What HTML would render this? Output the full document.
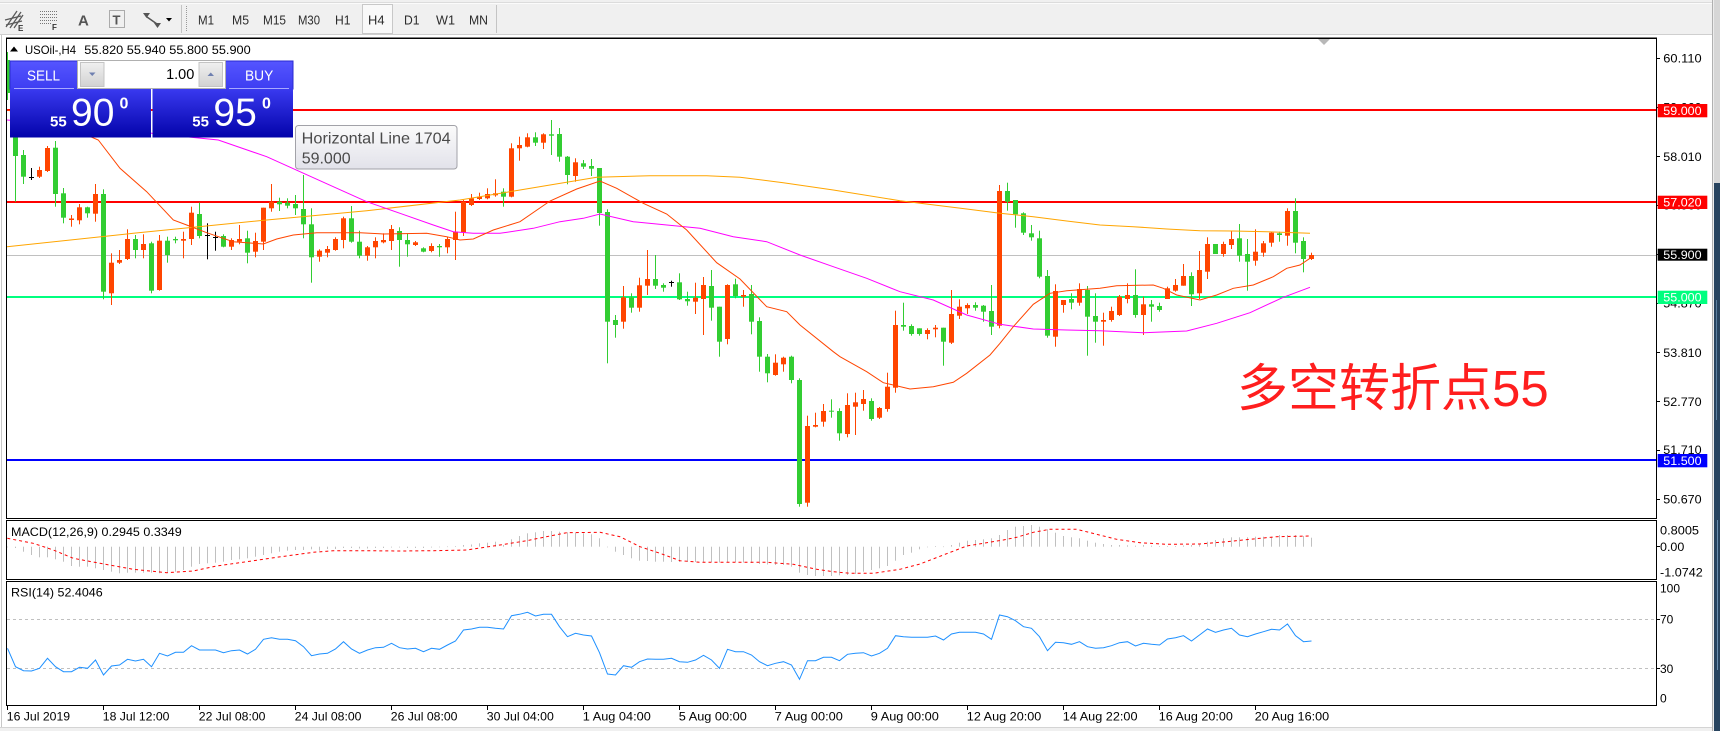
<!DOCTYPE html>
<html><head><meta charset="utf-8"><title>USOil H4</title>
<style>
html,body{margin:0;padding:0;background:#fff;overflow:hidden;width:1720px;height:731px}
svg{display:block;font-family:"Liberation Sans","Noto Sans CJK SC",sans-serif}
</style></head>
<body>
<svg id="S" width="1720" height="731" viewBox="0 0 1720 731" xmlns="http://www.w3.org/2000/svg">
<defs>
<clipPath id="cm"><rect x="7" y="39" width="1649" height="478"/></clipPath>
<clipPath id="cd"><rect x="7" y="521" width="1649" height="57"/></clipPath>
<clipPath id="cr"><rect x="7" y="582" width="1649" height="123"/></clipPath>
<linearGradient id="gb" x1="0" y1="0" x2="0" y2="1"><stop offset="0" stop-color="#3a3af0"/><stop offset="1" stop-color="#0303aa"/></linearGradient>
<linearGradient id="gbt" x1="0" y1="0" x2="0" y2="1"><stop offset="0" stop-color="#5555ff"/><stop offset="1" stop-color="#3d3df2"/></linearGradient>
<linearGradient id="gs" x1="0" y1="0" x2="0" y2="1"><stop offset="0" stop-color="#f0f0f0"/><stop offset="1" stop-color="#d2d2d2"/></linearGradient>
<linearGradient id="gt" x1="0" y1="0" x2="0" y2="1"><stop offset="0" stop-color="#fbfbfb"/><stop offset="1" stop-color="#e2e2ea"/></linearGradient>
</defs>

<!-- background -->
<rect x="0" y="0" width="1720" height="731" fill="#ffffff"/>
<!-- toolbar -->
<rect x="0" y="0" width="1720" height="35" fill="#f0f0f0"/>
<rect x="0" y="2" width="1720" height="1" fill="#dcdcdc"/>
<rect x="0" y="3" width="1720" height="1" fill="#fbfbfb"/>
<rect x="0" y="34" width="1720" height="1" fill="#cfcfcf"/>
<!-- toolbar icons -->
<g stroke="#5a5a5a" stroke-width="1.3" fill="none">
<line x1="6" y1="27" x2="17" y2="11"/><line x1="10" y1="28" x2="21" y2="12"/><line x1="14" y1="28" x2="23" y2="15"/>
<line x1="5" y1="20" x2="21" y2="16"/><line x1="6" y1="25" x2="22" y2="21"/>
</g>
<text x="18" y="31" font-size="8" font-weight="bold" fill="#333">E</text>
<g stroke="#777" stroke-width="1" stroke-dasharray="1,1">
<line x1="40" y1="11.5" x2="57" y2="11.5"/><line x1="40" y1="14.5" x2="57" y2="14.5"/><line x1="40" y1="17.5" x2="57" y2="17.5"/><line x1="40" y1="20.5" x2="57" y2="20.5"/><line x1="40" y1="23.5" x2="52" y2="23.5"/>
</g>
<text x="52" y="30" font-size="8" font-weight="bold" fill="#333">F</text>
<text x="78" y="25.5" font-size="15" font-weight="bold" fill="#555">A</text>
<rect x="109.5" y="10.5" width="15" height="17" fill="none" stroke="#666" stroke-dasharray="1,1"/>
<text x="112.5" y="24.5" font-size="13" font-weight="bold" fill="#555">T</text>
<polygon points="143,13 150,13 146.5,18" fill="#555"/>
<line x1="147" y1="17" x2="157" y2="24" stroke="#555" stroke-width="1.5"/>
<polygon points="154,23 161,23 157.5,28" fill="#555"/>
<polygon points="166,18 172,18 169,21.5" fill="#000"/>
<rect x="181" y="5" width="1" height="28" fill="#c4c4c4"/>
<line x1="186.5" y1="6" x2="186.5" y2="32" stroke="#9a9a9a" stroke-dasharray="1,1"/>
<rect x="362.5" y="4.5" width="30" height="29" fill="#f9f9f9" stroke="#c8c8c8"/>
<g font-size="13" fill="#2c2c2c">
<text x="198" y="24.5" textLength="16" lengthAdjust="spacingAndGlyphs">M1</text>
<text x="232" y="24.5" textLength="17" lengthAdjust="spacingAndGlyphs">M5</text>
<text x="263" y="24.5" textLength="23" lengthAdjust="spacingAndGlyphs">M15</text>
<text x="298" y="24.5" textLength="22" lengthAdjust="spacingAndGlyphs">M30</text>
<text x="335" y="24.5" textLength="15.5" lengthAdjust="spacingAndGlyphs">H1</text>
<text x="368" y="24.5" textLength="16.5" lengthAdjust="spacingAndGlyphs">H4</text>
<text x="404" y="24.5" textLength="15.5" lengthAdjust="spacingAndGlyphs">D1</text>
<text x="436" y="24.5" textLength="19" lengthAdjust="spacingAndGlyphs">W1</text>
<text x="469" y="24.5" textLength="19" lengthAdjust="spacingAndGlyphs">MN</text>
</g>
<rect x="496" y="5" width="1" height="28" fill="#c4c4c4"/>

<!-- window edges -->
<rect x="1" y="35" width="1" height="693" fill="#c8c8c8"/>
<rect x="0" y="727" width="1720" height="4" fill="#f0f0f0"/>
<rect x="0" y="727" width="1720" height="1" fill="#d4d4d4"/>
<rect x="1712" y="0" width="1" height="731" fill="#b0b0b0"/>
<rect x="1713" y="0" width="1" height="731" fill="#ececec"/>
<rect x="1714" y="0" width="6" height="183" fill="#d6d6d6"/>
<rect x="1714" y="183" width="6" height="548" fill="#28445f"/>
<rect x="1716" y="300" width="1" height="120" fill="#5b7fa0"/>
<rect x="1717" y="520" width="1" height="150" fill="#6a8fb0"/>

<!-- horizontal level lines -->
<rect x="7" y="255" width="1649" height="1" fill="#c0c0c0"/>
<rect x="7" y="109" width="1649" height="2" fill="#ff0000"/>
<rect x="7" y="201" width="1649" height="2" fill="#ff0000"/>
<rect x="7" y="296" width="1649" height="2" fill="#00ff7f"/>
<rect x="7" y="459" width="1649" height="2" fill="#0000ff"/>

<!-- candles + MAs (drawn by script) -->
<g id="candles" clip-path="url(#cm)"></g>
<g id="mas" clip-path="url(#cm)"></g>
<g id="macd" clip-path="url(#cd)"></g>
<g id="rsi" clip-path="url(#cr)">
<line x1="7" y1="619.5" x2="1656" y2="619.5" stroke="#c0c0c0" stroke-dasharray="3,3"/>
<line x1="7" y1="668.5" x2="1656" y2="668.5" stroke="#c0c0c0" stroke-dasharray="3,3"/>
</g>

<!-- chart borders -->
<rect x="6" y="37.5" width="1651" height="1.5" fill="#000"/>
<rect x="6" y="38" width="1" height="480" fill="#000"/>
<rect x="1656" y="38" width="1" height="481" fill="#000"/>
<rect x="6" y="518" width="1651" height="1" fill="#000"/>
<rect x="6" y="520" width="1651" height="1" fill="#000"/>
<rect x="6" y="520" width="1" height="60" fill="#000"/>
<rect x="1656" y="520" width="1" height="60" fill="#000"/>
<rect x="6" y="579" width="1651" height="1" fill="#000"/>
<rect x="6" y="581" width="1651" height="1" fill="#000"/>
<rect x="6" y="581" width="1" height="125" fill="#000"/>
<rect x="1656" y="581" width="1" height="125" fill="#000"/>
<rect x="6" y="705" width="1651" height="1" fill="#000"/>

<!-- chart shift marker -->
<polygon points="1318,39 1330,39 1324,45" fill="#b8b8b8"/>

<!-- header -->
<polygon points="10,51.5 18,51.5 14,46.5" fill="#000"/>
<text x="25" y="54" font-size="12" fill="#000" textLength="51" lengthAdjust="spacingAndGlyphs">USOil-,H4</text>
<text x="84.3" y="54" font-size="12" fill="#000" textLength="166.4" lengthAdjust="spacingAndGlyphs">55.820 55.940 55.800 55.900</text>

<!-- sub-window labels -->
<text x="11" y="536" font-size="12" fill="#000" textLength="170.7" lengthAdjust="spacingAndGlyphs">MACD(12,26,9) 0.2945 0.3349</text>
<text x="11" y="596.5" font-size="12" fill="#000" textLength="91.7" lengthAdjust="spacingAndGlyphs">RSI(14) 52.4046</text>

<!-- price axis -->
<g fill="#000">
<rect x="1656" y="58" width="4" height="1"/><rect x="1656" y="107" width="4" height="1"/><rect x="1656" y="156" width="4" height="1"/>
<rect x="1656" y="205" width="4" height="1"/><rect x="1656" y="254" width="4" height="1"/><rect x="1656" y="303" width="4" height="1"/>
<rect x="1656" y="352" width="4" height="1"/><rect x="1656" y="401" width="4" height="1"/><rect x="1656" y="450" width="4" height="1"/>
<rect x="1656" y="499" width="4" height="1"/><rect x="1656" y="546" width="4" height="1"/>
<rect x="1656" y="619" width="4" height="1"/><rect x="1656" y="668" width="4" height="1"/>
</g>
<g font-size="12" fill="#000">
<text x="1663.3" y="62.6" textLength="38.3" lengthAdjust="spacingAndGlyphs">60.110</text>
<text x="1663.3" y="111.6" textLength="38.3" lengthAdjust="spacingAndGlyphs">59.060</text>
<text x="1663.3" y="160.8" textLength="38.3" lengthAdjust="spacingAndGlyphs">58.010</text>
<text x="1663.3" y="209.6" textLength="38.3" lengthAdjust="spacingAndGlyphs">56.960</text>
<text x="1663.3" y="258.6" textLength="38.3" lengthAdjust="spacingAndGlyphs">55.910</text>
<text x="1663.3" y="307.3" textLength="38.3" lengthAdjust="spacingAndGlyphs">54.870</text>
<text x="1663.3" y="357" textLength="38.3" lengthAdjust="spacingAndGlyphs">53.810</text>
<text x="1663.3" y="405.8" textLength="38.3" lengthAdjust="spacingAndGlyphs">52.770</text>
<text x="1663.3" y="453.8" textLength="38.3" lengthAdjust="spacingAndGlyphs">51.710</text>
<text x="1663.3" y="503.5" textLength="38.3" lengthAdjust="spacingAndGlyphs">50.670</text>
<text x="1660" y="534.3" textLength="39" lengthAdjust="spacingAndGlyphs">0.8005</text>
<text x="1660" y="551" textLength="24.3" lengthAdjust="spacingAndGlyphs">0.00</text>
<text x="1660" y="576.6" textLength="42.7" lengthAdjust="spacingAndGlyphs">-1.0742</text>
<text x="1660" y="592.5" textLength="20" lengthAdjust="spacingAndGlyphs">100</text>
<text x="1660" y="623.3" textLength="13.3" lengthAdjust="spacingAndGlyphs">70</text>
<text x="1660" y="672.8" textLength="13.3" lengthAdjust="spacingAndGlyphs">30</text>
<text x="1660" y="702.3" textLength="6.7" lengthAdjust="spacingAndGlyphs">0</text>
</g>
<!-- price boxes -->
<rect x="1657.7" y="104" width="49.6" height="13.3" fill="#ff0000"/>
<rect x="1657.7" y="195.7" width="49.6" height="13.3" fill="#ff0000"/>
<rect x="1657.7" y="248.7" width="49.6" height="12" fill="#000000"/>
<rect x="1657.7" y="290.7" width="49.6" height="13.3" fill="#00ff7f"/>
<rect x="1657.7" y="454" width="49.6" height="13.3" fill="#0000ff"/>
<g font-size="12" fill="#ffffff">
<text x="1663.3" y="115" textLength="38.3" lengthAdjust="spacingAndGlyphs">59.000</text>
<text x="1663.3" y="206.6" textLength="38.3" lengthAdjust="spacingAndGlyphs">57.020</text>
<text x="1663.3" y="259" textLength="38.3" lengthAdjust="spacingAndGlyphs">55.900</text>
<text x="1663.3" y="301.6" textLength="38.3" lengthAdjust="spacingAndGlyphs">55.000</text>
<text x="1663.3" y="465" textLength="38.3" lengthAdjust="spacingAndGlyphs">51.500</text>
</g>

<!-- time axis -->
<g fill="#000">
<rect x="7" y="705" width="1" height="5"/><rect x="103" y="705" width="1" height="5"/><rect x="199" y="705" width="1" height="5"/>
<rect x="295" y="705" width="1" height="5"/><rect x="391" y="705" width="1" height="5"/><rect x="487" y="705" width="1" height="5"/>
<rect x="583" y="705" width="1" height="5"/><rect x="679" y="705" width="1" height="5"/><rect x="775" y="705" width="1" height="5"/>
<rect x="871" y="705" width="1" height="5"/><rect x="967" y="705" width="1" height="5"/><rect x="1063" y="705" width="1" height="5"/>
<rect x="1159" y="705" width="1" height="5"/><rect x="1255" y="705" width="1" height="5"/>
</g>
<g font-size="12" fill="#000">
<text x="6.8" y="720.7" textLength="63.3" lengthAdjust="spacingAndGlyphs">16 Jul 2019</text>
<text x="102.8" y="720.7" textLength="66.7" lengthAdjust="spacingAndGlyphs">18 Jul 12:00</text>
<text x="198.8" y="720.7" textLength="66.7" lengthAdjust="spacingAndGlyphs">22 Jul 08:00</text>
<text x="294.8" y="720.7" textLength="66.7" lengthAdjust="spacingAndGlyphs">24 Jul 08:00</text>
<text x="390.8" y="720.7" textLength="66.7" lengthAdjust="spacingAndGlyphs">26 Jul 08:00</text>
<text x="486.8" y="720.7" textLength="67" lengthAdjust="spacingAndGlyphs">30 Jul 04:00</text>
<text x="582.8" y="720.7" textLength="68" lengthAdjust="spacingAndGlyphs">1 Aug 04:00</text>
<text x="678.8" y="720.7" textLength="68" lengthAdjust="spacingAndGlyphs">5 Aug 00:00</text>
<text x="774.8" y="720.7" textLength="68" lengthAdjust="spacingAndGlyphs">7 Aug 00:00</text>
<text x="870.8" y="720.7" textLength="68" lengthAdjust="spacingAndGlyphs">9 Aug 00:00</text>
<text x="966.8" y="720.7" textLength="74.5" lengthAdjust="spacingAndGlyphs">12 Aug 20:00</text>
<text x="1062.8" y="720.7" textLength="74.7" lengthAdjust="spacingAndGlyphs">14 Aug 22:00</text>
<text x="1158.8" y="720.7" textLength="74" lengthAdjust="spacingAndGlyphs">16 Aug 20:00</text>
<text x="1254.8" y="720.7" textLength="74.3" lengthAdjust="spacingAndGlyphs">20 Aug 16:00</text>
</g>

<!-- annotation text -->
<text x="1237" y="406" font-size="51" fill="#ff1e1e" font-family="'Liberation Sans','Noto Sans CJK SC',sans-serif">多空转折点55</text>

<!-- tooltip -->
<rect x="295.5" y="125.5" width="161.5" height="43.5" rx="3" ry="3" fill="url(#gt)" stroke="#a2a2a8"/>
<text x="301.7" y="143.3" font-size="16" fill="#4a4a4a" textLength="149" lengthAdjust="spacingAndGlyphs">Horizontal Line 1704</text>
<text x="301.7" y="163.3" font-size="16" fill="#4a4a4a">59.000</text>

<!-- one-click trading panel -->
<rect x="10" y="61" width="67.5" height="28" fill="url(#gbt)" stroke="#2a2ad0" stroke-width="1"/>
<rect x="225.5" y="61" width="67.5" height="28" fill="url(#gbt)" stroke="#2a2ad0" stroke-width="1"/>
<rect x="10" y="88.5" width="141" height="49" fill="url(#gb)"/>
<rect x="152.5" y="88.5" width="140.5" height="49" fill="url(#gb)"/>
<rect x="14" y="88" width="60" height="1" fill="#a8a8ff"/>
<rect x="229" y="88" width="60" height="1" fill="#a8a8ff"/>
<rect x="77.5" y="60.5" width="148" height="28" fill="#ffffff" stroke="#b0b0b0"/>
<rect x="80.5" y="62.5" width="23.5" height="24" fill="url(#gs)" stroke="#c4c4c4"/>
<rect x="199" y="62.5" width="23.5" height="24" fill="url(#gs)" stroke="#c4c4c4"/>
<polygon points="89,72.5 95.5,72.5 92.25,76" fill="#6f80b0"/>
<polygon points="207.5,76 214,76 210.75,72.5" fill="#6f80b0"/>
<text x="194.3" y="79" font-size="14.5" fill="#000" text-anchor="end">1.00</text>
<text x="27" y="80.7" font-size="15" fill="#ffffff" textLength="33" lengthAdjust="spacingAndGlyphs">SELL</text>
<text x="245" y="80.7" font-size="15" fill="#ffffff" textLength="28.3" lengthAdjust="spacingAndGlyphs">BUY</text>
<text x="50" y="126.3" font-size="15" font-weight="bold" fill="#ffffff">55</text>
<text x="71" y="125.3" font-size="39" fill="#ffffff">90</text>
<text x="119.5" y="108.7" font-size="16" font-weight="bold" fill="#ffffff">0</text>
<text x="192.3" y="126.3" font-size="15" font-weight="bold" fill="#ffffff">55</text>
<text x="213.4" y="125.3" font-size="39" fill="#ffffff">95</text>
<text x="262" y="108.7" font-size="16" font-weight="bold" fill="#ffffff">0</text>
</svg>

<script>
(function(){
var NS='http://www.w3.org/2000/svg';
function add(p,tag,a){var e=document.createElementNS(NS,tag);for(var k in a)e.setAttribute(k,a[k]);p.appendChild(e);return e;}
var C=[
['g',60,93,52,100],['g',137,156,130,201.7],['g',155,176.7,150,184],['k',176.7,177.5,168,180],['r',170,176.7,166.7,178],
['r',148,171,146,172],['g',147.7,194,141,206.7],['g',193.3,217.7,188,223.3],['r',218.5,220,215,226.7],['r',207.3,220.3,204,224.3],
['g',207.3,213.3,206.7,217.7],['r',194,213.7,184,221.7],['g',194,291.7,189.3,299.3],['r',262.7,293.3,253.3,305],['r',260,262.7,250,264],
['r',239,259,229.3,260],['g',239,250,235,258.3],['r',244,250,234.3,258.3],['g',243.3,290.7,241.7,293.3],['r',240.7,290,235,290.7],
['g',240.7,255,236.7,262.7],['g',239,240.3,236.7,243.3],['r',239,240.7,231.7,258.3],['r',212.7,239,206.7,245],['g',214,236,202.7,238.3],
['k',235,235.5,223.3,259.3],['k',236.7,237.2,231.7,250.7],['g',236,246.7,234.3,247.3],['r',240,246.7,238.3,250],['r',239,241.7,225,244.3],
['g',238.3,252.7,230.7,263.3],['r',241,251.7,232.7,257.3],['r',207.7,241.7,207.7,250],['r',201.7,208.3,184,211.7],['g',201.7,204.3,197.7,211],
['g',202.7,205.7,198.3,208.3],['g',204,208.3,195,215],['g',209,224.3,175,238.3],['g',224.3,257.3,208.3,282.7],['r',250.7,256.7,249.3,261.7],
['r',249,252.7,246,257.3],['r',239,250,237.3,250.7],['r',218.3,240,216.7,248.3],['g',218.3,241.7,206,242.7],['g',241.7,255.7,230.7,258.3],
['r',247.3,255.7,246,260.7],['r',241,247.3,237.3,258.3],['r',240,242.3,233.3,243.3],['r',229,241,225,250],['g',231,240,227.3,266.7],
['g',240,244.3,233.3,256.7],['r',242.3,245,241,246],['g',248.3,251.7,247.3,252.3],['r',246,251,243.3,252.3],['g',246,247.3,244,256.7],
['r',239,247.3,236.7,253.3],['r',231.7,240,211.7,260],['r',201.7,232.3,200,236],['r',198.3,205,194,206],['r',196.7,199,192.7,200],
['r',194,198.3,188.3,199.3],['r',193.3,195.3,179.3,196.7],['g',191.7,196.7,188.3,206.7],['r',148.3,196.7,143.3,197.3],['r',145,148.3,136.7,160.7],
['r',137.3,146.7,133.3,147.3],['g',137.3,142.7,132.3,146],['r',134.3,142.7,133.3,149],['g',134.3,135.7,120,155],['g',134,156.7,128,161.7],
['g',156.7,175,156,184.3],['r',162.3,176,158.3,181.7],['g',163.3,166.7,160,169],['g',166,168.7,159,176],['g',168,213,168,225.7],
['g',212,321.7,209.3,363.3],['g',320,325,315,337.7],['r',297.3,321.7,286,328.7],['g',297.3,307.7,293.3,312.7],['r',285.3,307.7,277.7,311.7],
['r',279,285.7,250,295],['g',279,285.7,255,289],['g',285,287.7,283.3,291.7],['k',282.3,282.8,280.7,286.7],['g',282.3,299.3,273.3,300],
['g',299,301.3,291.7,305.7],['r',297.7,301.7,282.7,314],['r',285,299,277,335],['g',286,307.7,270,320.7],['g',306.7,341.7,306.7,356.7],
['r',285,339,284.3,344.3],['g',284.3,296,278.7,298.3],['r',295,296.7,290,306.7],['g',294,321.7,285,334.3],['g',321,356.7,317.3,371.7],
['g',356.7,373.3,354,382.3],['r',362.7,375,354.3,375.7],['r',357.7,364.3,356.7,371.7],['g',356.7,380,355.7,383.3],['g',380,504,378.3,506.7],
['r',426,502.7,415.7,506.7],['r',425,426.7,412.7,427.3],['r',411,421.7,404,426.7],['g',410.7,411.7,399.3,417.7],['g',411,433.3,408.3,440.7],
['r',405,434,393.3,437.3],['r',402.3,406.7,392.7,435],['r',399,404,390,410.7],['g',401,419,398.3,420.7],['r',408,417.7,407,419],
['r',386.7,409,372.7,411.7],['r',325,387.7,310.7,392.7],['g',325,326.7,302.7,330.7],['g',326,334,324.3,335.7],['g',328.3,334,328.3,335.7],
['r',330,334,328.3,339.3],['r',327.7,329.3,325,337.3],['g',327.7,341.7,327.7,365.7],['r',314,342.7,290,344],['r',306.7,315.7,299.3,319],
['r',305,308.3,303.3,314],['g',305,307.7,302.3,310.7],['g',305.7,311.7,305,321.7],['g',311,326.7,285,335],['r',191,325.7,185,328.3],
['g',191,201.7,182.7,210.7],['g',200,214.3,200,227.7],['g',213.3,232.7,212.3,235],['g',233.3,237.3,225,240.7],['g',238.3,276.7,230.7,278.3],
['g',276,335.7,270,337.7],['r',291,336.7,284.3,346.7],['r',300,305,300,312.7],['g',299,302.7,293.3,309.3],['r',289,302.7,283.3,305.7],
['g',290,316.7,286,355.7],['g',316,321.7,293.3,342.7],['r',320,321.7,312.7,345.7],['r',311,320,306.7,321.7],['r',296.7,315,295,316],
['r',295,299,283.3,303.3],['g',295,315,269.3,317.7],['r',304.3,315,296.7,335],['g',304.3,306.7,300,321.7],['g',306,310,302.7,311.7],
['r',288.3,299,286.7,299],['r',285,290.7,279,291.7],['r',276,285.7,264,285.7],['g',276,294.3,272.3,306],['r',270,293.3,251,299],
['r',244,271.7,237.3,279],['g',244,254,244,254],['r',244,254,241.7,256.7],['r',239,245,230.7,249],['g',238.3,255.7,224,261.7],
['g',254,261.7,239,290.7],['r',251.7,260.7,229.3,265.7],['r',243.3,252.7,241,256.7],['r',232.7,242.7,231.7,246.7],['g',233.3,235,231.7,241.7],
['r',211,235.7,208.3,245.7],['g',211,242.7,198.3,253.3],['g',241,259,237.3,272.3],['r',255,259,252.7,260]
];
var col={g:'#32cd32',r:'#ff4500',k:'#000000'};
var gc=document.getElementById('candles');
C.forEach(function(c,k){
  var x=7+8*k, f=col[c[0]];
  add(gc,'rect',{x:x,y:c[3],width:1,height:Math.max(1,c[4]-c[3]),fill:f});
  if(c[0]==='k'){add(gc,'rect',{x:x-2,y:Math.round(c[1]),width:5,height:1,fill:f});}
  else{add(gc,'rect',{x:x-2,y:c[1],width:5,height:Math.max(1,c[2]-c[1]),fill:f});}
});
function pl(p,pts,stroke,extra){
  var a={points:pts.map(function(q){return q[0]+','+q[1];}).join(' '),fill:'none',stroke:stroke,'stroke-width':1};
  if(extra)for(var k in extra)a[k]=extra[k];
  add(p,'polyline',a);
}
var gm=document.getElementById('mas');
pl(gm,[[7,246.7],[133.3,233.3],[266.7,220],[366.7,210.7],[460,200],[520,190],[550,185],[596.7,177.3],[650,175.7],[706.7,175.7],[740,177.3],[783.3,182.7],[833.3,190],[900,200.7],[966.7,209],[1000,213.3],[1033.3,216.7],[1066.7,221],[1100,225],[1133.3,226.7],[1166.7,229],[1200,230.7],[1233.3,231],[1266.7,231.7],[1310,233.3]],'#ffa500');
pl(gm,[[7,120],[100,128],[218.3,140],[266.7,156.7],[300,171.7],[333.3,186.7],[366.7,201.7],[400,213.3],[433.3,225],[453.3,231.7],[473.3,233.3],[500,233.3],[533.3,228.3],[560,221.7],[583.3,218.3],[600,214],[633.3,221.7],[700,228.3],[733.3,236.7],[766.7,241.7],[800,255],[833.3,266.7],[866.7,278.3],[900,291.7],[933.3,300],[966.7,315],[1000,324.3],[1033.3,329],[1066.7,330],[1100,330.7],[1143.3,332.7],[1186.7,331],[1216.7,323.3],[1250,312.7],[1283.3,297.3],[1310,287.3]],'#ff00ff');
pl(gm,[[7,110],[40,118],[70,128],[98.3,140],[120,168.3],[146.7,191.7],[173.3,220],[186.7,225],[206.7,232.7],[233.3,241.7],[263.3,244],[276.7,239],[293.3,235],[316.7,232.7],[360,232.7],[383.3,234],[426.7,233.3],[446.7,236.7],[460,240],[473.3,239],[493.3,230],[520,221.7],[550,201],[576.7,189],[600,181],[616.7,188.3],[643.3,203.3],[666.7,214],[686.7,230],[716.7,262.7],[740,279],[766.7,306.7],[786.7,311.7],[800,325],[833.3,351.7],[840,356.7],[866.7,371.7],[883.3,382.7],[910,389],[933.3,386.7],[953.3,382.3],[966.7,373.3],[990,355],[1000,343.3],[1013.3,326.7],[1033.3,304.3],[1050,293.3],[1066.7,290.7],[1100,288.3],[1116.7,285.7],[1153.3,285],[1163.3,288.3],[1176.7,295],[1200,300],[1216.7,295],[1233.3,288.3],[1253.3,285],[1273.3,276.7],[1286.7,268.3],[1300,265],[1310,258.3]],'#ff4500');

var H=[547,548,551.7,555,557.3,557.3,559.3,561.7,566,566.7,566.7,568.3,570,571.7,573.3,572.7,572.7,572.7,572.7,573.3,572.7,571.7,570,566.7,564,563.3,562.7,561.7,560,559.3,558.3,556.7,555,553.3,551.7,550.7,550,550,549.3,550.7,549,549,548,548,548.5,548.5,548,548,547.5,547.5,548,548,548,547.5,547,546.5,546,545,544.5,543.3,542.7,541.7,
545,539.3,536,533.3,532.3,531,531,531.7,532.3,532.7,533.3,534.3,538.3,546.7,551.7,555,558.3,560.7,561,561.7,561.7,562,562,562,562,562,562,562.5,562,562,562.5,563,564,564.5,565,565,566.7,572.7,575,576,576,576,575.3,575,574,571.7,570,568.3,566,560.7,555,552.7,549.3,546.7,546,546.5,545,542.7,540.7,540,539.3,538.3,535,
530,526.7,526,525,526.7,529.3,532.7,536,537.3,538.3,540.7,542.7,544,545,545,545.3,545.7,545,545.7,546,546,546,545.5,545,544.5,541.7,540,538.3,537.3,537.3,537.3,536.7,536.7,536.7,535,535,535,536,537.7];
var gd=document.getElementById('macd'), z=546.7;
H.forEach(function(v,k){
  var x=7+8*k, t=Math.min(z,v), b=Math.max(z,v);
  add(gd,'rect',{x:x,y:t,width:1,height:Math.max(0.6,b-t),fill:'#c0c0c0'});
});
pl(gd,[[7.3,538.3],[33.3,543.3],[53.3,550],[73.3,558.3],[100,563.3],[133.3,569.3],[166.7,572.7],[193.3,571],[216.7,566],[246.7,561.7],[276.7,557.3],[313.3,552.3],[333.3,550.7],[366.7,550.7],[400,551],[433.3,550.7],[466.7,550],[493.3,546],[500,545],[526.7,540.7],[550,536],[566.7,532.7],[600,532.3],[620,536.7],[640,546.7],[660,553.3],[680,560.7],[700,562.3],[766.7,562.3],[793.3,564.3],[816.7,569.3],[833.3,571.7],[850,573.3],[873.3,573.3],[900,569.3],[920,564],[943.3,555],[966.7,546],[1003.3,540],[1016.7,537.3],[1033.3,532.3],[1050,529.3],[1076.7,529.3],[1096.7,534.3],[1116.7,539.3],[1140,542.7],[1166.7,544.3],[1200,544],[1226.7,541.7],[1250,539.3],[1276.7,536.7],[1310,536]],'#ff0000',{'stroke-dasharray':'3,3'});

var R=[648.3,666.7,670.7,671,668.3,658.3,666.7,671.7,671.7,667.3,668.3,660,675,666,665,659.3,661,659.3,666.7,653.3,656,652.3,652.3,645.7,650,650,650,652.7,650.7,650,654,649.3,639.3,637.7,639.3,639.3,640.7,646.7,655.7,654,653.3,649,641.7,649,653.3,650,647.7,647.3,643.3,647.7,649,648.3,651.7,648.3,649.3,645,641,630,629,627.3,627.3,628.3,
629,615.7,614.3,612.3,616,614.3,614.3,626.7,636.7,633.3,635,636,652.7,674,675,665.7,667.3,661.7,659,659.3,659.3,658.3,661.7,662.3,660,655.3,660,668.3,649.3,651.7,651.7,655,661.7,665.7,663.3,661.7,665,679.3,660.7,660.7,657.3,657.3,660.7,654.3,653.3,652.7,656,653.3,648.3,635.7,636.7,637.3,637.3,637.3,636,640,634,632.3,632.3,632.3,634,639.3,615,
616.7,620.7,626.7,628.3,636.7,650.7,642.3,642.7,644.3,641.7,646.7,648.3,647.7,645.7,642.7,641.7,646,643.3,644.3,645,639,637.7,635.7,641,635,629,632.3,630,628.3,635,636.7,634,631.7,629.3,630,624,635.7,641.7,641];
var gr=document.getElementById('rsi');
pl(gr,R.map(function(v,k){return [7.5+8*k,v];}),'#1e90ff');
})();
</script>
</body></html>
